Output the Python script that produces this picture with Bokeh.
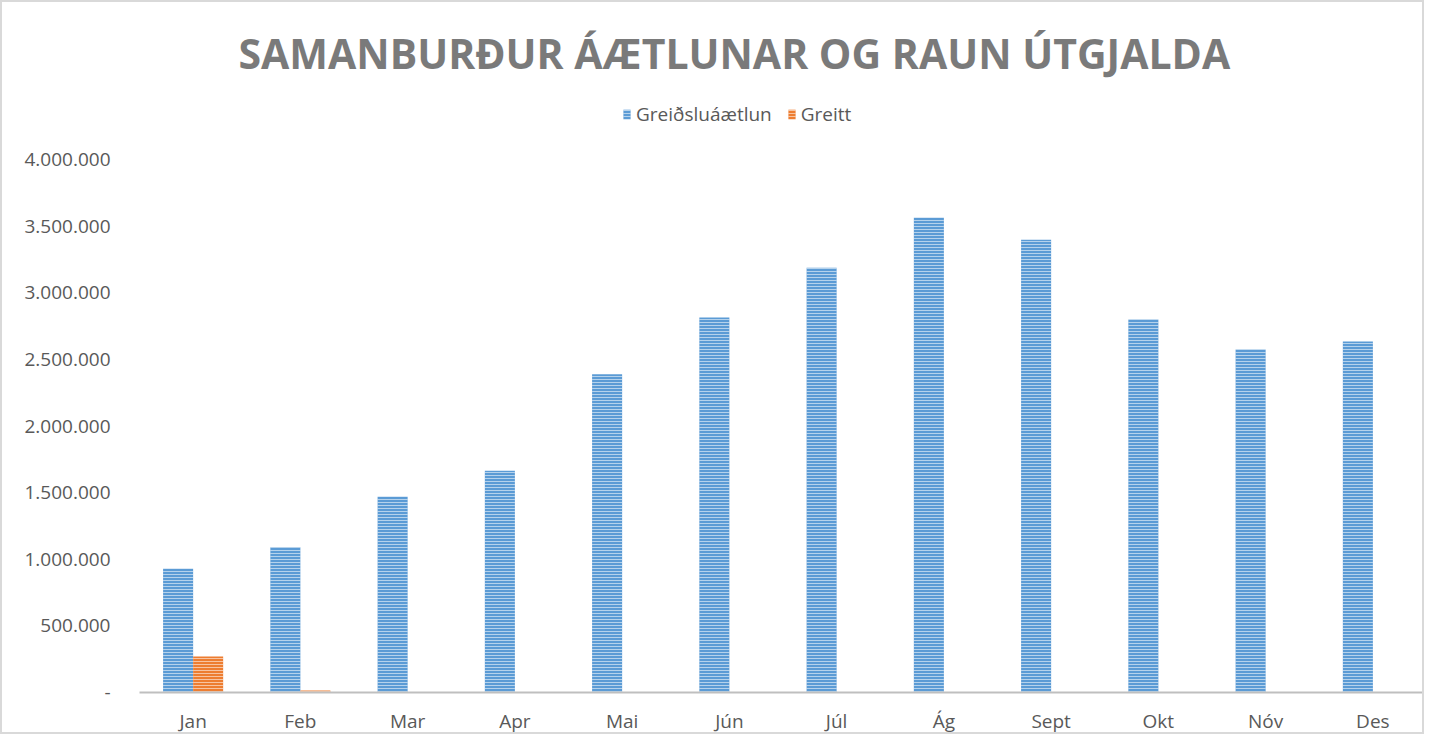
from bokeh.plotting import figure
from bokeh.models import FactorRange, Range1d, FixedTicker, Legend, LegendItem, ColumnDataSource
from bokeh.transform import dodge
from bokeh.embed import file_html
from bokeh.resources import INLINE

title_text = "SAMANBURÐUR ÁÆTLUNAR OG RAUN ÚTGJALDA"
months = ["Jan", "Feb", "Mar", "Apr", "Mai", "Jún", "Júl", "Ág", "Sept", "Okt", "Nóv", "Des"]
planned = [930000, 1090000, 1470000, 1665000, 2390000, 2815000, 3190000, 3565000, 3400000, 2800000, 2575000, 2635000]
paid = [270000, 15000, 0, 0, 0, 0, 0, 0, 0, 0, 0, 0]
series_names = ["Greiðsluáætlun", "Greitt"]
tick_values = [0, 500000, 1000000, 1500000, 2000000, 2500000, 3000000, 3500000, 4000000]
tick_labels = ["-", "500.000", "1.000.000", "1.500.000", "2.000.000", "2.500.000", "3.000.000", "3.500.000", "4.000.000"]

FONT = "Open Sans"
GREY = "#595959"

src = ColumnDataSource(dict(month=months, planned=planned, paid=paid))

# y range extends above the top tick so the legend area lies within the frame
p = figure(
    x_range=FactorRange(*months, range_padding=0),
    y_range=Range1d(0, 4580000),
    width=1424, height=734,
    output_backend="svg", toolbar_location=None,
    min_border_left=137, min_border_right=0, min_border_bottom=37, min_border_top=80,
)
p.styles = {"border": "2px solid #d9d9d9", "box-sizing": "border-box"}

r1 = p.vbar(x=dodge("month", -0.14, range=p.x_range), top="planned", width=0.28, source=src,
            fill_color="#5B9BD5", line_color=None,
            hatch_pattern="horizontal_line", hatch_color="white", hatch_alpha=0.55,
            hatch_scale=3, hatch_weight=1)
r2 = p.vbar(x=dodge("month", 0.14, range=p.x_range), top="paid", width=0.28, source=src,
            fill_color="#ED7D31", line_color=None,
            hatch_pattern="horizontal_line", hatch_color="white", hatch_alpha=0.55,
            hatch_scale=3, hatch_weight=1)

p.title.text = title_text
p.title.align = "left"
p.title.offset = 99
p.title.vertical_align = "middle"
p.title.text_font = FONT
p.title.text_font_style = "bold"
p.title.text_font_size = "41px"
p.title.text_color = "#7a7a7a"
p.title.standoff = 2

legend = Legend(items=[LegendItem(label=series_names[0], renderers=[r1]),
                       LegendItem(label=series_names[1], renderers=[r2])],
                orientation="horizontal", location=(483, 565),
                label_text_font=FONT, label_text_font_size="19px", label_text_color=GREY,
                glyph_width=9, glyph_height=12, spacing=15, label_standoff=5,
                border_line_color=None, background_fill_alpha=0,
                margin=0, padding=4)
p.add_layout(legend, "center")

p.xgrid.grid_line_color = None
p.ygrid.grid_line_color = None
p.outline_line_color = None

p.yaxis.ticker = FixedTicker(ticks=tick_values)
p.yaxis.major_label_overrides = {v: l for v, l in zip(tick_values, tick_labels)}
p.yaxis.axis_line_color = None
p.yaxis.major_tick_line_color = None
p.yaxis.minor_tick_line_color = None
p.yaxis.major_label_text_font = FONT
p.yaxis.major_label_text_font_size = "19px"
p.yaxis.major_label_text_color = GREY
p.yaxis.major_label_standoff = 23

p.xaxis.axis_line_color = "#BFBFBF"
p.xaxis.axis_line_width = 2
p.xaxis.major_tick_line_color = None
p.xaxis.minor_tick_line_color = None
p.xaxis.major_label_text_font = FONT
p.xaxis.major_label_text_font_size = "19px"
p.xaxis.major_label_text_color = GREY
p.xaxis.major_label_standoff = 9

open("out.html", "w").write(file_html(p, INLINE))
